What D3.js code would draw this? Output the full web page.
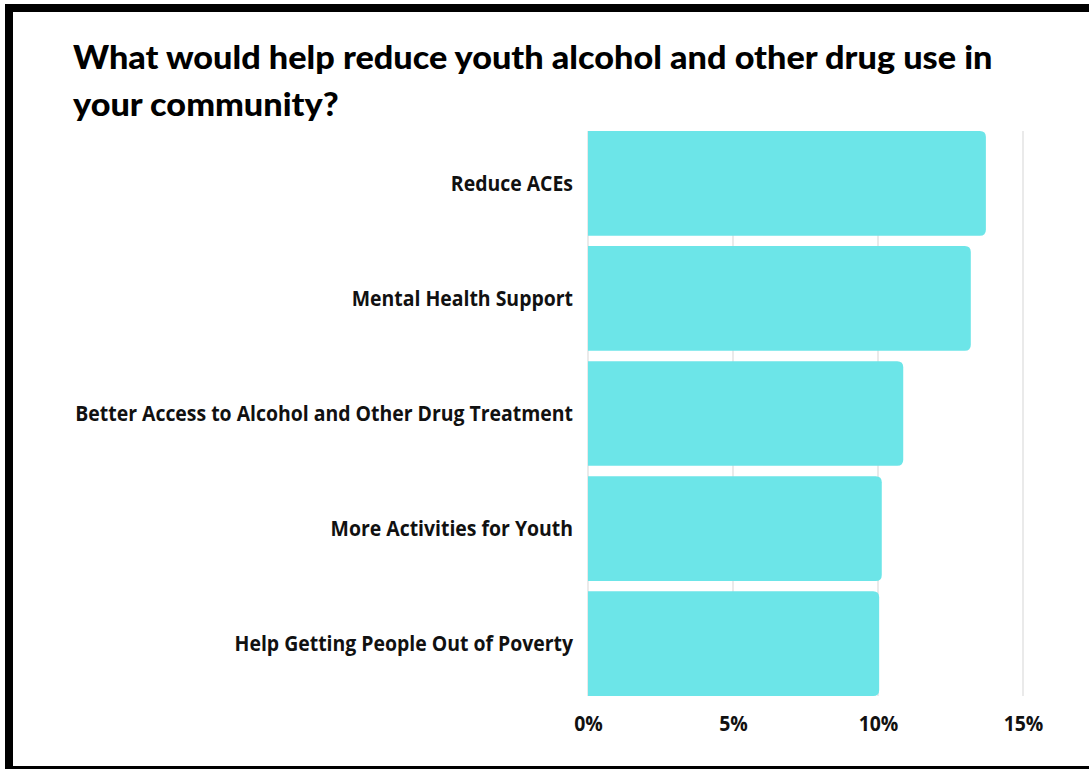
<!DOCTYPE html>
<html>
<head>
<meta charset="utf-8">
<script src="https://cdn.jsdelivr.net/npm/d3@7"></script>
<style>
  html, body { margin: 0; padding: 0; background: #fff; }
  svg { display: block; }
</style>
</head>
<body>
<script>
const titleLines = ["What would help reduce youth alcohol and other drug use in", "your community?"];
const categories = [
  "Reduce ACEs",
  "Mental Health Support",
  "Better Access to Alcohol and Other Drug Treatment",
  "More Activities for Youth",
  "Help Getting People Out of Poverty"
];
const values = [13.72, 13.2, 10.87, 10.13, 10.04];
const tickValues = [0, 5, 10, 15];

const W = 1089, H = 769;
const svg = d3.select("body").append("svg").attr("width", W).attr("height", H);

// frame
svg.append("rect").attr("x", 0).attr("y", 0).attr("width", W).attr("height", H).attr("fill", "#fff");
svg.append("rect").attr("x", 5).attr("y", 4).attr("width", W - 5).attr("height", 8).attr("fill", "#000");
svg.append("rect").attr("x", 5).attr("y", 4).attr("width", 8).attr("height", H - 4).attr("fill", "#000");
svg.append("rect").attr("x", 5).attr("y", 766).attr("width", W - 5).attr("height", 3).attr("fill", "#000");

// title
const titleG = svg.append("g");
const tl = titleG.selectAll("text").data(titleLines).join("text")
  .attr("x", 0).attr("y", (d, i) => 69 + i * 47)
  .attr("font-family", "Lato, 'DejaVu Sans', sans-serif")
  .attr("font-weight", 900)
  .attr("font-size", 33)
  .attr("fill", "#000")
  .text(d => d);
const tw = tl.nodes()[0].getComputedTextLength();
const tsx = 920 / tw;
titleG.attr("transform", `translate(73,0) scale(${tsx},1)`);

const x = d3.scaleLinear().domain([0, 15]).range([588, 1023]);
const y = d3.scaleBand().domain(categories).range([131, 696]).paddingInner(0.09).paddingOuter(0);

// gridlines
svg.append("g").selectAll("line").data(tickValues).join("line")
  .attr("x1", d => x(d)).attr("x2", d => x(d))
  .attr("y1", 131).attr("y2", 696)
  .attr("stroke", "#e3e3e3").attr("stroke-width", 1.5);

// bars with rounded right corners
const r = 6;
function barPath(x0, x1, y0, h) {
  const rr = Math.min(r, (x1 - x0) / 2, h / 2);
  return `M${x0},${y0}H${x1 - rr}Q${x1},${y0} ${x1},${y0 + rr}V${y0 + h - rr}Q${x1},${y0 + h} ${x1 - rr},${y0 + h}H${x0}Z`;
}
svg.append("g").selectAll("path").data(categories).join("path")
  .attr("d", (d, i) => barPath(x(0), x(values[i]), y(d), y.bandwidth()))
  .attr("fill", "#6ce5e8");

// category labels
const labFont = "'Open Sans', 'Noto Sans', sans-serif";
const labG = svg.append("g");
const labs = labG.selectAll("text").data(categories).join("text")
  .attr("x", 0)
  .attr("y", d => y(d) + y.bandwidth() / 2)
  .attr("dy", "0.36em")
  .attr("text-anchor", "end")
  .attr("font-family", labFont)
  .attr("font-weight", 700)
  .attr("font-size", 21)
  .attr("fill", "#111")
  .text(d => d);
const longest = d3.max(labs.nodes(), n => n.getComputedTextLength());
const lsx = 498 / longest;
labG.attr("transform", `translate(573,0) scale(${lsx},1)`);

// x axis tick labels
const axis = d3.axisBottom(x).tickValues(tickValues).tickFormat(d => d + "%").tickSize(0).tickPadding(0);
const ax = svg.append("g").attr("transform", "translate(0,723)").call(axis);
ax.select(".domain").remove();
ax.selectAll(".tick text")
  .attr("y", 0).attr("dy", "0.36em")
  .attr("font-family", labFont)
  .attr("font-weight", 700)
  .attr("font-size", 21)
  .attr("fill", "#111")
  .attr("transform", `scale(${lsx},1)`);
</script>
</body>
</html>
